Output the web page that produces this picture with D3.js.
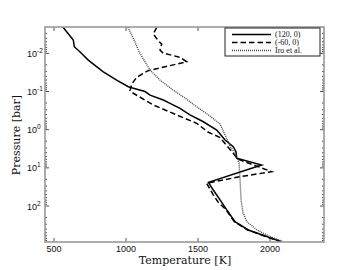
<!DOCTYPE html>
<head>
  <meta charset="utf-8">
  <script src="https://d3js.org/d3.v7.min.js"></script>
  <style>
    body { margin: 0; background: #fff; }
    .tick-label { font-family: "Liberation Sans", Arial, sans-serif; font-size: 9px; fill: #111; }
    .title { font-family: "DejaVu Serif", "Liberation Serif", serif; font-size: 11px; fill: #111; }
    .legend { font-family: "Liberation Serif", serif; font-size: 8px; fill: #111; }
  </style>
</head>
<body>
  <script>
    // temperature [K], pressure [bar]
    var solidT = [560, 634, 641, 681, 738, 840, 935, 1016, 1051, 1132, 1167, 1259, 1306, 1375, 1444, 1537, 1630, 1688, 1745, 1764, 1769, 1942, 1572, 1606, 1653, 1700, 1757, 1849, 1977, 2076];
    var solidP = [0.0020, 0.0045, 0.0067, 0.0092, 0.015, 0.030, 0.050, 0.075, 0.082, 0.10, 0.124, 0.167, 0.204, 0.275, 0.41, 0.62, 1.02, 1.86, 2.79, 3.77, 5.6, 8.4, 24, 38, 69, 126, 257, 423, 631, 851];

    var dashT = [1213, 1190, 1224, 1248, 1236, 1257, 1375, 1421, 1153, 1074, 1040, 1028, 1051, 1190, 1352, 1491, 1569, 1653, 1745, 1774, 2012, 1792, 1560, 1606, 1639, 1695, 1752, 1845, 1972, 2072];
    var dashP = [0.0021, 0.0031, 0.0047, 0.0057, 0.0082, 0.0098, 0.0127, 0.0166, 0.0285, 0.0425, 0.0637, 0.095, 0.111, 0.225, 0.41, 0.68, 1.15, 1.6, 4.15, 5.85, 12.6, 17, 25.3, 51, 78, 126, 257, 423, 631, 851];

    var iroT = [1014, 1056, 1097, 1167, 1236, 1326, 1410, 1493, 1583, 1653, 1688, 1722, 1750, 1771, 1785, 1792, 1799, 1813, 1840, 1910, 2000, 2090];
    var iroP = [0.00205, 0.0045, 0.010, 0.0274, 0.050, 0.0914, 0.148, 0.255, 0.438, 0.71, 1.38, 2.67, 3.84, 5.5, 7.4, 20.7, 69, 152, 260, 423, 631, 851];

    var xTicks = [500, 1000, 1500, 2000];
    var yExps = [-2, -1, 0, 1, 2];
    var seriesNames = ["(120, 0)", "(-60, 0)", "Iro et al."];

    var W = 360, H = 270;
    var svg = d3.select("body").append("svg").attr("width", W).attr("height", H);

    var x = d3.scaleLinear().domain([437.5, 2375]).range([45, 324]);
    var y = d3.scaleLog().domain([0.00204, 875]).range([27, 242]);

    var line = d3.line().x(d => x(d[0])).y(d => y(d[1]));

    var series = [
      { pts: d3.zip(solidT, solidP), dash: null, w: 1.5, c: "#000" },
      { pts: d3.zip(dashT, dashP), dash: "5.5,3", w: 1.5, c: "#000" },
      { pts: d3.zip(iroT, iroP), dash: "1,1", w: 1.4, c: "#444" }
    ];

    var plot = svg.append("g");
    plot.append("clipPath").attr("id", "clip")
      .append("rect").attr("x", 45).attr("y", 27).attr("width", 279).attr("height", 215);

    plot.selectAll("path.s")
      .data(series).enter().append("path")
      .attr("class", "s")
      .attr("clip-path", "url(#clip)")
      .attr("d", d => line(d.pts))
      .attr("fill", "none")
      .attr("stroke", d => d.c)
      .attr("stroke-width", d => d.w)
      .attr("stroke-dasharray", d => d.dash);

    // ticks
    var tk = svg.append("g").attr("stroke", "#222").attr("stroke-width", 0.8);
    xTicks.forEach(function (t) {
      tk.append("line").attr("x1", x(t)).attr("x2", x(t)).attr("y1", 242).attr("y2", 238);
      tk.append("line").attr("x1", x(t)).attr("x2", x(t)).attr("y1", 27).attr("y2", 31);
    });
    var minor = [];
    for (var e = -3; e <= 2; e++) {
      for (var m = 1; m <= 9; m++) {
        var v = m * Math.pow(10, e);
        if (v >= 0.00204 && v <= 875) minor.push({ v: v, major: m === 1 });
      }
    }
    minor.forEach(function (d) {
      var len = d.major ? 4 : 2;
      tk.append("line").attr("x1", 45).attr("x2", 45 + len).attr("y1", y(d.v)).attr("y2", y(d.v));
      tk.append("line").attr("x1", 324).attr("x2", 324 - len).attr("y1", y(d.v)).attr("y2", y(d.v));
    });

    // frame
    svg.append("rect").attr("x", 45).attr("y", 27).attr("width", 279).attr("height", 215)
      .attr("fill", "none").attr("stroke", "#999").attr("stroke-width", 1.6);

    // tick labels
    svg.selectAll("text.xt").data(xTicks).enter().append("text")
      .attr("class", "tick-label")
      .attr("x", d => x(d)).attr("y", 252)
      .attr("text-anchor", "middle")
      .text(d => d);

    var yl = svg.selectAll("text.yt").data(yExps).enter().append("text")
      .attr("class", "tick-label")
      .attr("x", 27).attr("y", d => y(Math.pow(10, d)) + 3.5);
    yl.append("tspan").text("10");
    yl.append("tspan").attr("dy", -4).style("font-size", "6.5px").text(d => d);

    // axis titles
    svg.append("text").attr("class", "title")
      .attr("x", 185).attr("y", 264).attr("text-anchor", "middle")
      .text("Temperature [K]");
    svg.append("text").attr("class", "title")
      .attr("transform", "translate(20,135) rotate(-90)")
      .attr("text-anchor", "middle")
      .text("Pressure [bar]");

    // legend
    var lg = svg.append("g");
    lg.append("rect").attr("x", 225).attr("y", 28).attr("width", 95).attr("height", 28)
      .attr("fill", "#fff").attr("stroke", "#222").attr("stroke-width", 1);
    series.forEach(function (s, i) {
      var yy = 34.5 + i * 8;
      lg.append("line").attr("x1", 232).attr("x2", 271).attr("y1", yy).attr("y2", yy)
        .attr("stroke", s.c).attr("stroke-width", s.w).attr("stroke-dasharray", s.dash);
      lg.append("text").attr("class", "legend").attr("x", 275).attr("y", yy + 2.8)
        .text(seriesNames[i]);
    });
  </script>
</body>
